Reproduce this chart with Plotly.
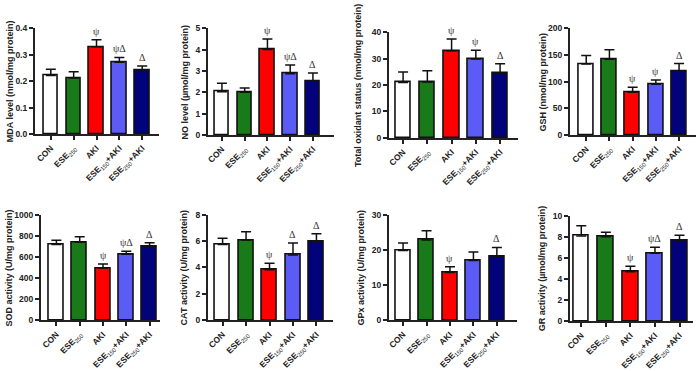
import plotly.graph_objects as go

W, H = 697, 371

groups = ["CON", "ESE250", "AKI", "ESE150+AKI", "ESE250+AKI"]
tick_labels = ["<b>CON</b>", "<b>ESE</b><sub>250</sub>", "<b>AKI</b>",
               "<b>ESE</b><sub>150</sub><b>+AKI</b>", "<b>ESE</b><sub>250</sub><b>+AKI</b>"]
bar_colors = ["#ffffff", "#197a19", "#ff0000", "#5b5bf5", "#02027a"]

titles = ["MDA level (nmol/mg protein)", "NO level (µmol/mg protein)",
          "Total oxidant status (nmol/mg protein)", "GSH (nmol/mg protein)",
          "SOD activity (U/mg protein)", "CAT activity (U/mg protein)",
          "GPx activity (U/mg protein)", "GR activity (µmol/mg protein)"]

mda_mean = [0.221, 0.212, 0.330, 0.272, 0.241]
mda_err = [0.024, 0.024, 0.027, 0.018, 0.016]
no_mean = [2.03, 2.00, 4.01, 2.87, 2.52]
no_err = [0.39, 0.20, 0.49, 0.41, 0.38]
tos_mean = [21.0, 21.2, 33.0, 29.9, 24.4]
tos_err = [3.9, 4.2, 4.4, 3.3, 3.7]
gsh_mean = [133, 142, 80, 95, 119.5]
gsh_err = [16, 18, 9.6, 8, 14.5]
sod_mean = [718, 739, 494, 626, 696]
sod_err = [40, 52, 40, 27, 37]
cat_mean = [5.73, 6.07, 3.83, 4.95, 5.95]
cat_err = [0.49, 0.63, 0.49, 0.90, 0.61]
gpx_mean = [19.85, 22.8, 13.6, 17.0, 18.1]
gpx_err = [2.1, 2.6, 1.6, 2.4, 2.6]
gr_mean = [8.08, 8.00, 4.68, 6.44, 7.60]
gr_err = [0.95, 0.42, 0.52, 0.56, 0.55]

mda_sig = ["", "", "ψ", "ψΔ", "Δ"]
no_sig = ["", "", "ψ", "ψΔ", "Δ"]
tos_sig = ["", "", "ψ", "ψ", "Δ"]
gsh_sig = ["", "", "ψ", "ψ", "Δ"]
sod_sig = ["", "", "ψ", "ψΔ", "Δ"]
cat_sig = ["", "", "ψ", "Δ", "Δ"]
gpx_sig = ["", "", "ψ", "", "Δ"]
gr_sig = ["", "", "ψ", "ψΔ", "Δ"]

y_max = [0.4, 5, 40, 200, 1000, 8, 30, 10]
y_dtick = [0.1, 1, 10, 50, 200, 2, 10, 2]
y_fmt = [".1f", "d", "d", "d", "d", "d", "d", "d"]

means = [mda_mean, no_mean, tos_mean, gsh_mean, sod_mean, cat_mean, gpx_mean, gr_mean]
errs = [mda_err, no_err, tos_err, gsh_err, sod_err, cat_err, gpx_err, gr_err]
sigs = [mda_sig, no_sig, tos_sig, gsh_sig, sod_sig, cat_sig, gpx_sig, gr_sig]

# layout: pixel boxes (left, right, top, bottom) and x ranges
boxes = [(31, 156, 24, 133), (205, 332, 24, 134), (387, 517, 28, 137), (569, 696, 24, 134),
         (37, 157, 216, 325), (205, 331, 216, 325), (387, 516, 216, 325), (569, 693, 217, 326)]
xranges = [(-0.70, 4.74), (-0.62, 4.93), (-0.59, 4.74), (-0.71, 4.73),
           (-0.67, 4.45), (-0.63, 4.71), (-0.61, 4.86), (-0.47, 4.55)]
title_x = [6, 182, 356, 542, 6, 182, 360, 542]

FONT = "Arial, Liberation Sans, sans-serif"
fig = go.Figure()
annotations = []
xs = list(range(len(groups)))

for i in range(8):
    n = i + 1
    xa = "x" if n == 1 else f"x{n}"
    ya = "y" if n == 1 else f"y{n}"
    l, r, t, b = boxes[i]
    fig.add_trace(go.Bar(
        x=xs, y=means[i], xaxis=xa, yaxis=ya, width=0.64,
        marker=dict(color=bar_colors, line=dict(color="#111", width=1.6)),
        error_y=dict(type="data", symmetric=False, array=errs[i], arrayminus=[0] * 5,
                     color="#111", thickness=1.5, width=5),
        showlegend=False, hoverinfo="skip"))
    axis_common = dict(showline=True, linecolor="#222", linewidth=1.8, ticks="outside",
                       ticklen=4, tickwidth=1.5, tickcolor="#222", showgrid=False,
                       zeroline=False)
    fig.layout[f"xaxis{'' if n == 1 else n}"] = dict(
        domain=[l / W, r / W], anchor=ya, range=list(xranges[i]),
        tickvals=xs, ticktext=tick_labels, tickangle=-45,
        tickfont=dict(family=FONT, size=8.5, color="#222"), **axis_common)
    fig.layout[f"yaxis{'' if n == 1 else n}"] = dict(
        domain=[1 - b / H, 1 - t / H], anchor=xa, range=[0, y_max[i]],
        dtick=y_dtick[i], tick0=0, tickformat=y_fmt[i],
        tickfont=dict(family=FONT, size=8.5, color="#222", weight="bold"), **axis_common)
    annotations.append(dict(
        text=f"<b>{titles[i]}</b>", xref="paper", yref="paper",
        x=title_x[i] / W, y=1 - (t + b) / 2 / H, textangle=-90, showarrow=False,
        xanchor="center", yanchor="middle",
        font=dict(family=FONT, size=9, color="#222")))
    for j in xs:
        if sigs[i][j]:
            annotations.append(dict(
                text=sigs[i][j], xref=xa, yref=ya, x=j, y=means[i][j] + errs[i][j],
                yanchor="bottom", yshift=1, showarrow=False,
                font=dict(family="Liberation Serif, Times New Roman, serif", size=10, color="#333")))

fig.update_layout(width=W, height=H, margin=dict(l=0, r=0, t=0, b=0),
                  plot_bgcolor="white", paper_bgcolor="white",
                  annotations=annotations, bargap=0)
fig.write_html("out.html", config={"displayModeBar": False},
               post_script="document.body.style.margin='0';document.body.style.padding='0';")
